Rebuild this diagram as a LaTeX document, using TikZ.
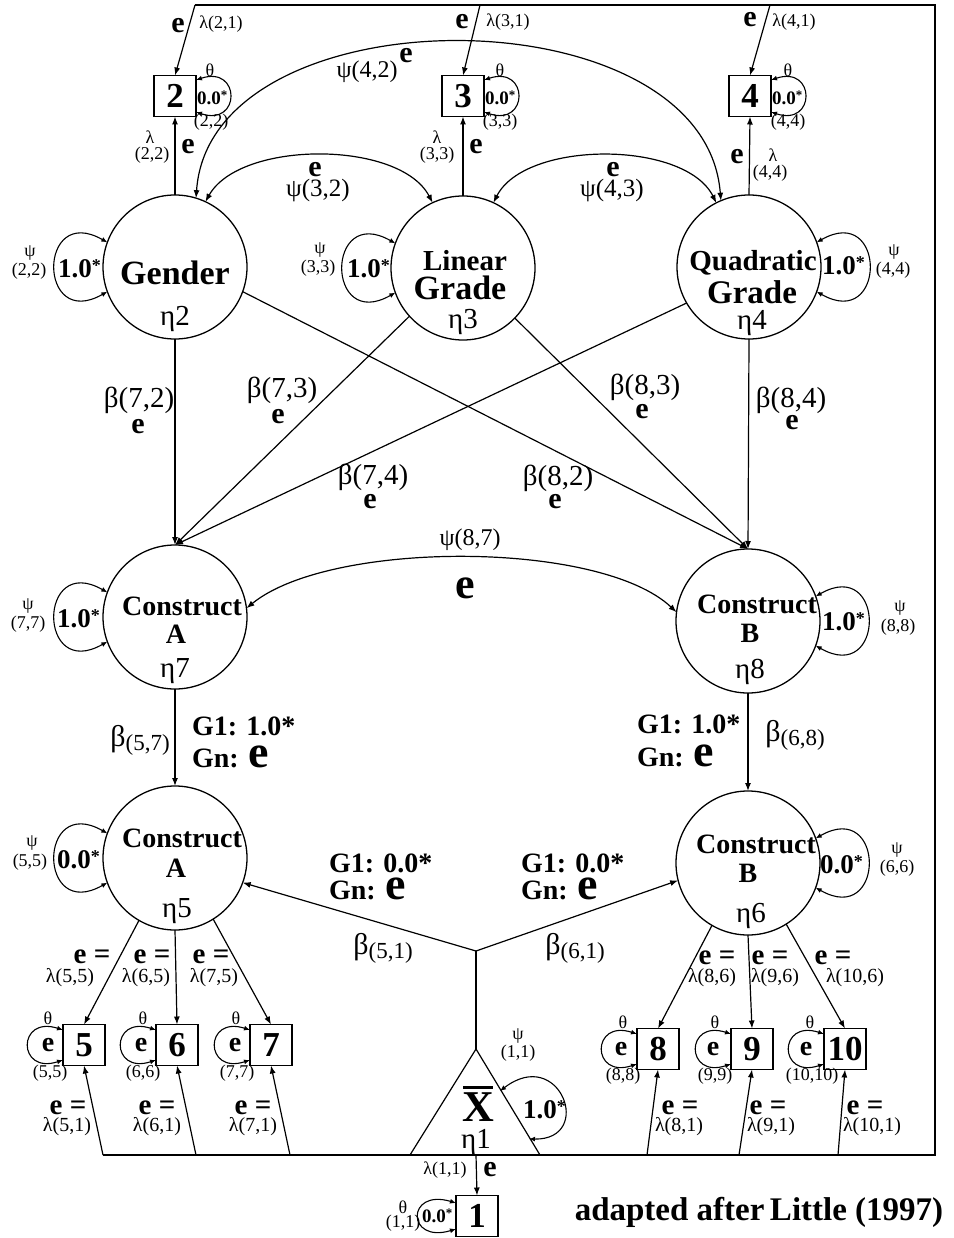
\documentclass[tikz,border=0pt]{standalone}
\usepackage{fontspec}
\setmainfont{Liberation Serif}
\usetikzlibrary{arrows.meta}
\newcommand\fsz[1]{\fontsize{#1}{#1}\selectfont}
\begin{document}
\begin{tikzpicture}[x=1pt,y=-1pt,
  every node/.style={inner sep=0pt, outer sep=0pt},
  lat/.style={circle, draw, line width=1.3pt, minimum size=144pt},
  obs/.style={rectangle, draw, line width=1.3pt, minimum width=42pt, minimum height=41pt, font=\bfseries\fsz{35}},
  ln/.style={line width=1.2pt},
  arr/.style={ln, -{Latex[length=8pt,width=6pt]}},
  darr/.style={ln, {Latex[length=8pt,width=6pt]}-{Latex[length=8pt,width=6pt]}},
  lp/.style={line width=1.1pt, {Latex[length=6pt,width=5pt]}-{Latex[length=6pt,width=5pt]}},
  sm/.style={font=\fsz{18}},
  lam/.style={font=\fsz{20}},
  be/.style={font=\bfseries\fsz{30}},
  bet/.style={font=\fsz{29}},
  psi/.style={font=\fsz{24}},
  eq/.style={font=\bfseries\fsz{29}},
  gl/.style={font=\bfseries\fsz{28}, anchor=base west},
  lv/.style={font=\bfseries\fsz{27}, anchor=base west},
  tv/.style={font=\bfseries\fsz{19}, anchor=base west},
  nm/.style={font=\bfseries\fsz{28}, anchor=base},
  eta/.style={font=\fsz{29}, anchor=base},
  bx/.style={font=\bfseries\fsz{28}}
]
\useasboundingbox (0,0) rectangle (953,1238);
\fill[white] (0,0) rectangle (953,1238);

% ---------- latent variables
\node[lat] (e2) at (175,267) {};
\node[lat] (e3) at (463,268) {};
\node[lat] (e4) at (749,267) {};
\node[lat] (e7) at (175,617) {};
\node[lat] (e8) at (748,621) {};
\node[lat] (e5) at (175,858) {};
\node[lat] (e6) at (748,863) {};

\node[font=\bfseries\fsz{34},anchor=base] (t2a) at (175,285) {Gender};
\node[eta] (t2b) at (175,325) {η2};
\node[font=\bfseries\fsz{29},anchor=base] (t3a) at (465,271) {Linear};
\node[font=\bfseries\fsz{34},anchor=base] (t3b) at (460,300) {Grade};
\node[eta] (t3c) at (463,328) {η3};
\node[font=\bfseries\fsz{29},anchor=base] (t4a) at (753,271) {Quadratic};
\node[font=\bfseries\fsz{33},anchor=base] (t4b) at (752,304) {Grade};
\node[eta] (t4c) at (752,329) {η4};
\node[nm] (t7a) at (182,615) {Construct};
\node[nm] (t7b) at (176,643) {A};
\node[eta] (t7c) at (175,677) {η7};
\node[nm] (t8a) at (757,613) {Construct};
\node[nm] (t8b) at (750,642) {B};
\node[eta] (t8c) at (750,678) {η8};
\node[nm] (t5a) at (182,847) {Construct};
\node[nm] (t5b) at (176,877) {A};
\node[eta] (t5c) at (177,917) {η5};
\node[nm] (t6a) at (756,853) {Construct};
\node[nm] (t6b) at (748,882) {B};
\node[eta] (t6c) at (751,922) {η6};

% ---------- observed variables
\node[obs] (b2) at (175,96) {2};
\node[obs] (b3) at (463,96) {3};
\node[obs] (b4) at (750,96) {4};
\node[obs] (b5) at (84,1045) {5};
\node[obs] (b6) at (177,1045) {6};
\node[obs] (b7) at (271,1045) {7};
\node[obs] (b8) at (658,1049) {8};
\node[obs] (b9) at (752,1049) {9};
\node[obs] (b10) at (845,1049) {10};
\node[obs] (b1) at (477,1216) {1};

% ---------- mean triangle and frame
\coordinate (tl) at (410,1155);
\coordinate (apex) at (476,1049);
\coordinate (tr) at (540,1155);
\draw[ln] (tl) -- (apex) -- (tr);
\node[font=\bfseries\fsz{44},anchor=base] (xx) at (478,1121) {X};
\draw[line width=3pt] ([xshift=-15pt,yshift=5pt]xx.north) -- ([xshift=15pt,yshift=5pt]xx.north);
\node[eta] (t1) at (476,1148) {η1};

\coordinate (TL) at (195,5);
\coordinate (TR) at (935,5);
\coordinate (BR) at (935,1155);
\coordinate (BL) at (103,1155);
\draw[ln] (BL) -- (BR) -- (TR) -- (TL);
\coordinate (t3) at (480,5);
\coordinate (t4) at (770,5);
\coordinate (s6) at (196,1155);
\coordinate (s7) at (290,1155);
\coordinate (s8) at (647,1155);
\coordinate (s9) at (739,1155);
\coordinate (s10) at (838,1155);
\coordinate (s1) at (476,1155);

\draw[arr] (TL) -- (b2.north);
\draw[arr] (t3) -- (b3.north);
\draw[arr] (t4) -- (b4.north);
\draw[arr] (BL) -- (b5.south);
\draw[arr] (s6) -- (b6.south);
\draw[arr] (s7) -- (b7.south);
\draw[arr] (s8) -- (b8.south);
\draw[arr] (s9) -- (b9.south);
\draw[arr] (s10) -- (b10.south);
\draw[arr] (s1) -- (b1.north);

% ---------- loadings of top indicators
\draw[arr] (e2.north) -- (b2.south);
\draw[arr] (e3.north) -- (b3.south);
\draw[arr] (e4.north) -- (b4.south);

% ---------- regressions
\draw[arr] (e2.south) -- (e7.north);
\draw[arr] (e3.222) -- (e7.north);
\draw[arr] (e4.210) -- (e7.north);
\draw[arr] (e2.340) -- (e8.north);
\draw[arr] (e3.316) -- (e8.north);
\draw[arr] (e4.south) -- (e8.north);
\draw[arr] (e7.south) -- (e5.north);
\draw[arr] (e8.south) -- (e6.north);

\coordinate (J) at (476,951);
\draw[ln] (apex) -- (J);
\draw[arr] (J) -- (e5.340);
\draw[arr] (J) -- (e6.194);

\draw[arr] (e5.240) -- (b5.north);
\draw[arr] (e5.south) -- (b6.north);
\draw[arr] (e5.302) -- (b7.north);
\draw[arr] (e6.240) -- (b8.north);
\draw[arr] (e6.south) -- (b9.north);
\draw[arr] (e6.302) -- (b10.north);

% ---------- covariances
\draw[darr] (e2.65) .. controls (240,140) and (400,140) .. (e3.115);
\draw[darr] (e3.65) .. controls (525,140) and (685,140) .. (e4.117);
\draw[darr] (e2.73) .. controls (210,-10) and (705,-10) .. (e4.113);
\draw[darr] (e7.7) .. controls (330,540) and (600,540) .. (e8.173);

% ---------- variance loops
\draw[lp] (e2.160) .. controls +(-70,-40) and +(-70,40) .. (e2.200);
\draw[lp] (e3.160) .. controls +(-70,-40) and +(-70,40) .. (e3.200);
\draw[lp] (e4.20) .. controls +(70,-40) and +(70,40) .. (e4.340);
\draw[lp] (e7.160) .. controls +(-70,-40) and +(-70,40) .. (e7.200);
\draw[lp] (e8.20) .. controls +(70,-40) and +(70,40) .. (e8.340);
\draw[lp] (e5.160) .. controls +(-70,-40) and +(-70,40) .. (e5.200);
\draw[lp] (e6.20) .. controls +(70,-40) and +(70,40) .. (e6.340);
\foreach \b in {b2,b3,b4}
  \draw[lp] ([yshift=16pt]\b.east) .. controls +(45,-15) and +(45,15) .. ([yshift=-16pt]\b.east);
\foreach \b in {b5,b6,b7,b8,b9,b10}
  \draw[lp] ([yshift=15pt]\b.west) .. controls +(-46,-15) and +(-46,15) .. ([yshift=-15pt]\b.west);
\draw[lp] ([yshift=13pt]b1.west) .. controls +(-50,-15) and +(-50,15) .. ([yshift=-13pt]b1.west);
\coordinate (lpa) at (500,1091);
\coordinate (lpb) at (529,1139);
\draw[lp] (lpa) .. controls (560,1045) and (595,1140) .. (lpb);

% ---------- top labels
\node[be] (te2) at (178,26) {e};
\node[sm] (tl2) at (221,24) {λ(2,1)};
\node[be] (te3) at (462,22) {e};
\node[sm] (tl3) at (508,22) {λ(3,1)};
\node[be] (te4) at (750,20) {e};
\node[sm] (tl4) at (794,22) {λ(4,1)};

\node[sm] (th2) at (210,70) {θ};
\node[tv] (v2) at (197,105) {0.0\raisebox{5pt}{\fsz{13}*}};
\node[sm] (th2b) at (211,122) {(2,2)};
\node[sm] (th3) at (500,70) {θ};
\node[tv] (v3) at (485,105) {0.0\raisebox{5pt}{\fsz{13}*}};
\node[sm] (th3b) at (500,122) {(3,3)};
\node[sm] (th4) at (788,70) {θ};
\node[tv] (v4) at (772,105) {0.0\raisebox{5pt}{\fsz{13}*}};
\node[sm] (th4b) at (788,122) {(4,4)};

\node[sm] (l22a) at (150,137) {λ};
\node[sm] (l22b) at (152,155) {(2,2)};
\node[be] (l22e) at (188,147) {e};
\node[sm] (l33a) at (437,137) {λ};
\node[sm] (l33b) at (437,155) {(3,3)};
\node[be] (l33e) at (476,147) {e};
\node[be] (l44e) at (737,157) {e};
\node[sm] (l44a) at (773,155) {λ};
\node[sm] (l44b) at (770,173) {(4,4)};

\node[psi] (p42) at (367,72) {ψ(4,2)};
\node[be] (p42e) at (406,56) {e};
\node[be] (p32e) at (315,170) {e};
\node[font=\fsz{25}] (p32) at (318,190) {ψ(3,2)};
\node[be] (p43e) at (613,170) {e};
\node[font=\fsz{25}] (p43) at (612,190) {ψ(4,3)};

% ---------- latent variance labels
\node[lv] (v22) at (58,278) {1.0\raisebox{6pt}{\fsz{18}*}};
\node[sm] (s22a) at (30,253) {ψ};
\node[sm] (s22b) at (29,271) {(2,2)};
\node[lv] (v33) at (347,278) {1.0\raisebox{6pt}{\fsz{18}*}};
\node[sm] (s33a) at (320,250) {ψ};
\node[sm] (s33b) at (318,268) {(3,3)};
\node[lv] (v44) at (822,275) {1.0\raisebox{6pt}{\fsz{18}*}};
\node[sm] (s44a) at (894,252) {ψ};
\node[sm] (s44b) at (893,270) {(4,4)};
\node[lv] (v77) at (57,627) {1.0\raisebox{6pt}{\fsz{18}*}};
\node[sm] (s77a) at (28,606) {ψ};
\node[sm] (s77b) at (28,624) {(7,7)};
\node[lv] (v88) at (822,630) {1.0\raisebox{6pt}{\fsz{18}*}};
\node[sm] (s88a) at (900,608) {ψ};
\node[sm] (s88b) at (898,627) {(8,8)};
\node[lv] (v55) at (57,868) {0.0\raisebox{6pt}{\fsz{18}*}};
\node[sm] (s55a) at (32,843) {ψ};
\node[sm] (s55b) at (30,862) {(5,5)};
\node[lv] (v66) at (820,873) {0.0\raisebox{6pt}{\fsz{18}*}};
\node[sm] (s66a) at (897,850) {ψ};
\node[sm] (s66b) at (897,868) {(6,6)};
\node[lv] (v11) at (523,1118) {1.0\raisebox{6pt}{\fsz{18}*}};
\node[sm] (s11a) at (518,1036) {ψ};
\node[sm] (s11b) at (518,1053) {(1,1)};

% ---------- regression labels
\node[bet] (r72) at (139,400) {β(7,2)};
\node[be] (r72e) at (138,427) {e};
\node[bet] (r73) at (282,390) {β(7,3)};
\node[be] (r73e) at (278,417) {e};
\node[bet] (r74) at (373,477) {β(7,4)};
\node[be] (r74e) at (370,502) {e};
\node[bet] (r82) at (558,478) {β(8,2)};
\node[be] (r82e) at (555,502) {e};
\node[bet] (r83) at (645,387) {β(8,3)};
\node[be] (r83e) at (642,412) {e};
\node[bet] (r84) at (791,400) {β(8,4)};
\node[be] (r84e) at (792,423) {e};

\node[psi] (p87) at (470,540) {ψ(8,7)};
\node[font=\bfseries\fsz{44}] (p87e) at (465,588) {e};

\node[font=\fsz{30}] (r57) at (140,740) {β\raisebox{-4pt}{\fsz{23}(5,7)}};
\node[gl] (g57a) at (192,735) {G1: 1.0*};
\node[gl] (g57b) at (192,767) {Gn: \fsz{46}e};
\node[font=\fsz{30}] (r68) at (795,735) {β\raisebox{-4pt}{\fsz{23}(6,8)}};
\node[gl] (g68a) at (637,733) {G1: 1.0*};
\node[gl] (g68b) at (637,766) {Gn: \fsz{46}e};

\node[gl] (g51a) at (329,872) {G1: 0.0*};
\node[gl] (g51b) at (329,899) {Gn: \fsz{46}e};
\node[gl] (g61a) at (521,872) {G1: 0.0*};
\node[gl] (g61b) at (521,899) {Gn: \fsz{46}e};
\node[font=\fsz{30}] (r51) at (383,948) {β\raisebox{-4pt}{\fsz{23}(5,1)}};
\node[font=\fsz{30}] (r61) at (575,948) {β\raisebox{-4pt}{\fsz{23}(6,1)}};

% ---------- loadings labels (lower)
\node[eq] (q55) at (92,957) {e =};
\node[lam] (q55l) at (70,978) {λ(5,5)};
\node[eq] (q65) at (152,957) {e =};
\node[lam] (q65l) at (146,978) {λ(6,5)};
\node[eq] (q75) at (211,957) {e =};
\node[lam] (q75l) at (214,978) {λ(7,5)};
\node[eq] (q86) at (717,958) {e =};
\node[lam] (q86l) at (712,978) {λ(8,6)};
\node[eq] (q96) at (770,958) {e =};
\node[lam] (q96l) at (775,978) {λ(9,6)};
\node[eq] (q106) at (833,958) {e =};
\node[lam] (q106l) at (855,978) {λ(10,6)};

\node[eq] (m51) at (68,1108) {e =};
\node[lam] (m51l) at (67,1127) {λ(5,1)};
\node[eq] (m61) at (157,1108) {e =};
\node[lam] (m61l) at (157,1127) {λ(6,1)};
\node[eq] (m71) at (253,1108) {e =};
\node[lam] (m71l) at (253,1127) {λ(7,1)};
\node[eq] (m81) at (680,1108) {e =};
\node[lam] (m81l) at (679,1127) {λ(8,1)};
\node[eq] (m91) at (768,1108) {e =};
\node[lam] (m91l) at (771,1127) {λ(9,1)};
\node[eq] (m101) at (865,1108) {e =};
\node[lam] (m101l) at (872,1127) {λ(10,1)};

% ---------- residual labels lower boxes
\node[bx] (u5) at (48,1045) {e};
\node[sm] (u5a) at (48,1018) {θ};
\node[sm] (u5b) at (50,1073) {(5,5)};
\node[bx] (u6) at (141,1045) {e};
\node[sm] (u6a) at (143,1018) {θ};
\node[sm] (u6b) at (143,1073) {(6,6)};
\node[bx] (u7) at (235,1045) {e};
\node[sm] (u7a) at (236,1018) {θ};
\node[sm] (u7b) at (237,1073) {(7,7)};
\node[bx] (u8) at (621,1049) {e};
\node[sm] (u8a) at (623,1022) {θ};
\node[sm] (u8b) at (623,1076) {(8,8)};
\node[bx] (u9) at (713,1049) {e};
\node[sm] (u9a) at (715,1022) {θ};
\node[sm] (u9b) at (715,1076) {(9,9)};
\node[bx] (u10) at (806,1049) {e};
\node[sm] (u10a) at (810,1022) {θ};
\node[sm] (u10b) at (812,1076) {(10,10)};

% ---------- box 1
\node[sm] (l11) at (445,1170) {λ(1,1)};
\node[be] (l11e) at (490,1170) {e};
\node[sm] (u1a) at (403,1207) {θ};
\node[sm] (u1b) at (403,1223) {(1,1)};
\node[tv] (v1) at (422,1222) {0.0\raisebox{5pt}{\fsz{13}*}};

\node[font=\bfseries\fsz{33},anchor=base] (cap) at (759,1220) {adapted after\,Little (1997)};
\end{tikzpicture}
\end{document}
